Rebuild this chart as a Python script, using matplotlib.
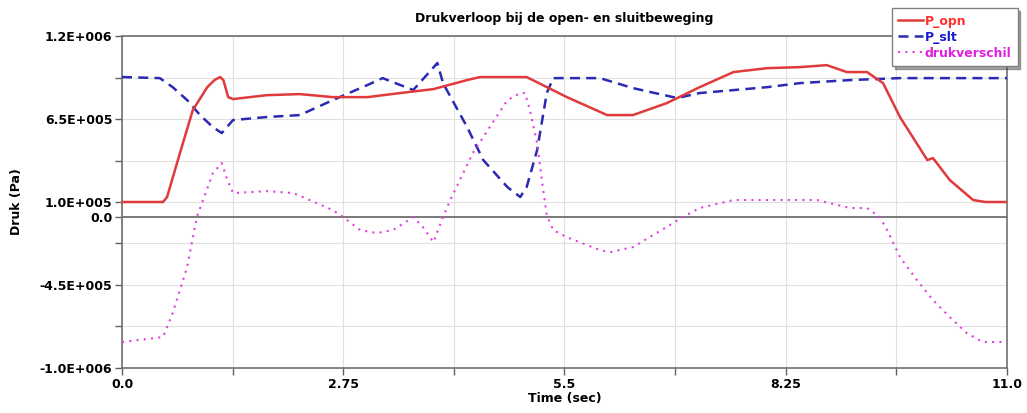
import matplotlib.pyplot as plt
from matplotlib.ticker import FixedLocator, FixedFormatter

# time axis (sec) and pressures (Pa)
t_opn = [0.0, 0.51, 0.56, 0.72, 0.88, 1.06, 1.15, 1.22, 1.26, 1.32, 1.38, 1.80, 2.21,
         2.62, 3.05, 3.46, 3.87, 4.29, 4.45, 5.03, 5.53, 6.03, 6.35, 6.77, 7.18, 7.60,
         8.02, 8.43, 8.76, 9.01, 9.26, 9.46, 9.67, 10.01, 10.08, 10.29, 10.58, 10.73, 11.0]
p_opn = [1.0e5, 1.0e5, 1.33e5, 4.24e5, 7.09e5, 8.61e5, 9.08e5, 9.28e5, 9.08e5, 7.95e5,
         7.82e5, 8.08e5, 8.15e5, 7.95e5, 7.95e5, 8.22e5, 8.48e5, 9.08e5, 9.28e5, 9.28e5,
         7.95e5, 6.76e5, 6.76e5, 7.55e5, 8.61e5, 9.61e5, 9.87e5, 9.94e5, 1.007e6, 9.61e5,
         9.61e5, 8.88e5, 6.63e5, 3.78e5, 3.91e5, 2.45e5, 1.13e5, 1.0e5, 1.0e5]

t_slt = [0.0, 0.47, 0.63, 0.81, 0.97, 1.13, 1.24, 1.38, 1.80, 2.21, 2.62, 3.05, 3.24,
         3.46, 3.62, 3.92, 3.99, 4.29, 4.49, 4.79, 4.95, 5.03, 5.16, 5.28, 5.36, 5.94,
         6.35, 6.90, 7.18, 8.02, 8.43, 9.05, 9.67, 11.0]
p_slt = [9.28e5, 9.21e5, 8.61e5, 7.75e5, 6.76e5, 5.96e5, 5.57e5, 6.43e5, 6.63e5, 6.76e5,
         7.75e5, 8.75e5, 9.21e5, 8.75e5, 8.42e5, 1.021e6, 8.88e5, 5.96e5, 3.78e5, 1.99e5,
         1.33e5, 1.99e5, 4.44e5, 8.22e5, 9.21e5, 9.21e5, 8.55e5, 7.89e5, 8.22e5, 8.61e5,
         8.88e5, 9.08e5, 9.21e5, 9.21e5]

t_dif = [0.0, 0.51, 0.63, 0.81, 0.93, 1.13, 1.24, 1.31, 1.38, 1.80, 2.13, 2.42,
         2.62, 2.75, 2.96, 3.17, 3.37, 3.62, 3.74, 3.87, 3.99, 4.08, 4.36, 4.79,
         4.95, 5.01, 5.07, 5.16, 5.23, 5.28, 5.36, 5.53, 5.94, 6.07, 6.35, 6.77,
         6.97, 7.18, 7.60, 8.02, 8.64, 9.05, 9.26, 9.42, 9.51, 9.67, 9.88, 10.08,
         10.29, 10.50, 10.70, 11.0]
p_dif = [-8.28e5, -7.95e5, -6.36e5, -3.31e5, 0.0, 2.92e5, 3.58e5, 2.45e5, 1.59e5, 1.72e5,
         1.59e5, 9.3e4, 4.6e4, 0.0, -8.6e4, -1.06e5, -8.6e4, 0.0, -6.6e4, -1.66e5,
         0.0, 1.13e5, 4.24e5, 7.75e5, 8.22e5, 8.22e5, 7.09e5, 4.9e5, 1.99e5, 1.3e4,
         -8.6e4, -1.33e5, -2.19e5, -2.32e5, -1.99e5, -6.6e4, 0.0, 6.0e4, 1.13e5, 1.13e5,
         1.13e5, 6.0e4, 6.0e4, 0.0, -8.6e4, -2.65e5, -4.17e5, -5.5e5, -6.63e5, -7.69e5,
         -8.28e5, -8.28e5]

x_major = [0.0, 2.75, 5.5, 8.25, 11.0]
x_labels = ["0.0", "2.75", "5.5", "8.25", "11.0"]
x_minor = [1.375, 4.125, 6.875, 9.625]
y_major = [1.2e6, 6.5e5, 1.0e5, 0.0, -4.5e5, -1.0e6]
y_labels = ["1.2E+006", "6.5E+005", "1.0E+005", "0.0", "-4.5E+005", "-1.0E+006"]
y_minor = [9.25e5, 3.75e5, -1.75e5, -7.25e5]

plt.rcParams['font.family'] = 'DejaVu Sans'
plt.rcParams['font.weight'] = 'bold'

fig = plt.figure(figsize=(10.27, 4.13), dpi=100)
ax = fig.add_axes([0.1188, 0.109, 0.8617, 0.8038])

ax.plot(t_opn, p_opn, color='#e03a3a', lw=1.8, label='P_opn', zorder=4)
ax.plot(t_slt, p_slt, color='#2a2ab4', lw=1.8, ls=(0, (4, 2.5)), label='P_slt', zorder=3)
ax.plot(t_dif, p_dif, color='#e040e0', lw=1.5, ls=(0, (1, 2.5)), label='drukverschil', zorder=3)

ax.axhline(0, color='#707070', lw=1.3, zorder=2)

ax.set_xlim(0, 11)
ax.set_ylim(-1.0e6, 1.2e6)
ax.xaxis.set_major_locator(FixedLocator(x_major))
ax.xaxis.set_major_formatter(FixedFormatter(x_labels))
ax.xaxis.set_minor_locator(FixedLocator(x_minor))
ax.yaxis.set_major_locator(FixedLocator(y_major))
ax.yaxis.set_major_formatter(FixedFormatter(y_labels))
ax.yaxis.set_minor_locator(FixedLocator(y_minor))
ax.grid(True, which='both', color='#e0e0e0', lw=0.8, zorder=0)
ax.tick_params(which='both', direction='out', length=5, width=1, color='#606060',
               labelsize=9, pad=2)

for s in ax.spines.values():
    s.set_color('#707070')
    s.set_linewidth(1.2)

ax.set_title('Drukverloop bij de open- en sluitbeweging', fontsize=9, fontweight='bold', pad=10)
ax.set_xlabel('Time (sec)', fontsize=9, fontweight='bold', labelpad=1)
ax.set_ylabel('Druk (Pa)', fontsize=9, fontweight='bold', labelpad=12)

leg = fig.legend(loc='upper right', bbox_to_anchor=(0.997, 0.995), fontsize=9,
                 handlelength=2.0, handletextpad=0.1, borderpad=0.5, labelspacing=0.25,
                 fancybox=False, shadow=True, framealpha=1)
leg.get_frame().set_edgecolor('#808080')
for txt, c in zip(leg.get_texts(), ['#ff3030', '#1a1ad0', '#e020e0']):
    txt.set_color(c)
    txt.set_fontweight('bold')

fig.savefig('out.png', dpi=100)
